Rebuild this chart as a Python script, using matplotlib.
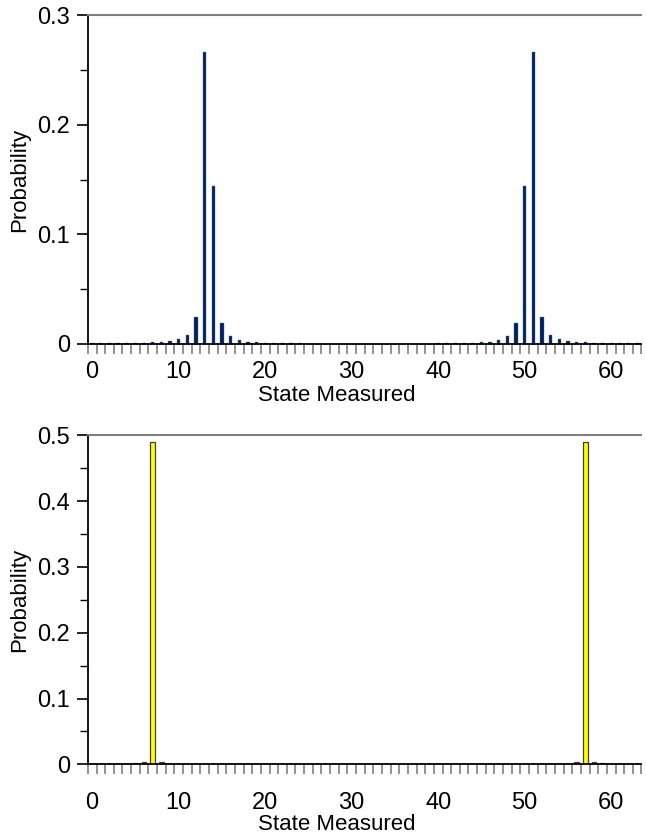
import matplotlib.pyplot as plt
from matplotlib.ticker import MultipleLocator

plt.rcParams['font.family'] = ['Liberation Sans', 'DejaVu Sans']

# States 0..63
states = list(range(64))

# Top chart probabilities (states 0..32, the rest mirror around 64)
top_first_half = [0.0011, 0.0011, 0.0011, 0.0011, 0.0012, 0.0012, 0.0013, 0.0015,
                  0.0019, 0.0027, 0.0045, 0.0085, 0.0243, 0.2660, 0.1440, 0.0188,
                  0.0070, 0.0034, 0.0021, 0.0016, 0.0013, 0.0012, 0.0011, 0.0010,
                  0.0009, 0.0004, 0.0003, 0.0003, 0.0003, 0.0002, 0.0002, 0.0002,
                  0.0002]
top_probs = [0.0] * 64
for k in range(33):
    top_probs[k] = top_first_half[k]
    if 0 < k < 64 - k:
        top_probs[64 - k] = top_first_half[k]

# Bottom chart probabilities (same mirroring)
bottom_first_half = [0.0003, 0.0003, 0.0004, 0.0005, 0.0008, 0.0015, 0.0040, 0.4905,
                     0.0030, 0.0012, 0.0007, 0.0005, 0.0004, 0.0003, 0.0003, 0.0002,
                     0.0002, 0.0002, 0.0002, 0.0002, 0.0002, 0.0002, 0.0002, 0.0002,
                     0.0002, 0.0002, 0.0002, 0.0002, 0.0002, 0.0002, 0.0002, 0.0002,
                     0.0002]
bottom_probs = [0.0] * 64
for k in range(33):
    bottom_probs[k] = bottom_first_half[k]
    if 0 < k < 64 - k:
        bottom_probs[64 - k] = bottom_first_half[k]

x_labels = [0, 10, 20, 30, 40, 50, 60]

fig = plt.figure(figsize=(6.46, 8.39), dpi=100)
ax1 = fig.add_axes([0.136, 0.590, 0.857, 0.392])
ax2 = fig.add_axes([0.136, 0.089, 0.857, 0.392])


def style_axis(ax, ymax, ystep, xpad, xlabel_y):
    ax.set_xlim(-0.5, 63.5)
    ax.set_ylim(0, ymax)
    # tick marks between categories, labels at category centres
    ax.set_xticks([i - 0.5 for i in range(65)])
    ax.set_xticklabels([])
    ax.set_xticks(x_labels, minor=True)
    ax.set_xticklabels([str(v) for v in x_labels], minor=True)
    ax.tick_params(axis='x', which='major', direction='out', length=7, width=1.2,
                   color='#808080')
    ax.tick_params(axis='x', which='minor', length=0, pad=xpad, labelsize=17)
    ax.yaxis.set_major_locator(MultipleLocator(ystep))
    ax.yaxis.set_minor_locator(MultipleLocator(ystep / 2))
    ax.yaxis.set_major_formatter(plt.FuncFormatter(lambda v, p: '0' if v == 0 else f'{v:.1f}'))
    ax.tick_params(axis='y', which='major', direction='out', length=8, width=1.2,
                   labelsize=17, pad=5)
    ax.tick_params(axis='y', which='minor', direction='out', length=6, width=1.0)
    ax.spines['right'].set_visible(False)
    ax.spines['top'].set_color('#808080')
    ax.spines['top'].set_linewidth(1.5)
    ax.spines['left'].set_linewidth(1.3)
    ax.spines['bottom'].set_linewidth(1.3)
    ax.set_xlabel('State Measured', fontsize=16)
    ax.set_ylabel('Probability', fontsize=16)
    ax.xaxis.set_label_coords(0.45, xlabel_y)
    ax.yaxis.set_label_coords(-0.105, 0.5)


# Top chart
ax1.bar(states, top_probs, width=0.38, color='#002060', edgecolor='#5a6e9a',
        linewidth=0.3)
style_axis(ax1, 0.3, 0.1, 12, -0.124)

# Bottom chart
ax2.bar(states, bottom_probs, width=0.55, color='#FFFF00', edgecolor='#404040',
        linewidth=0.9)
style_axis(ax2, 0.5, 0.1, 20, -0.152)

plt.savefig('out.png', dpi=100)
